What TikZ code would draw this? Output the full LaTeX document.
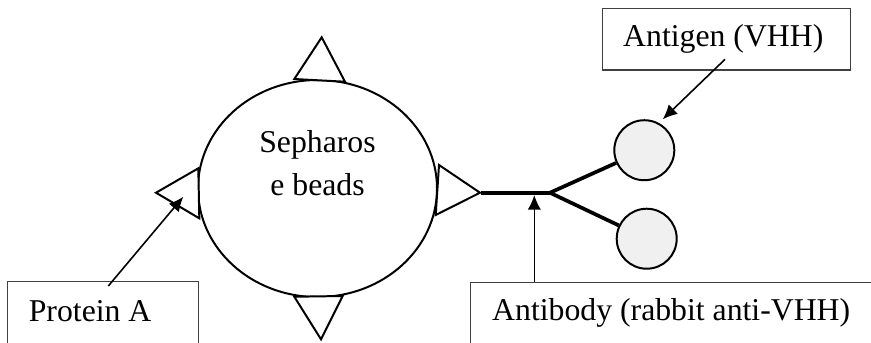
\documentclass[tikz,border=0pt]{standalone}
\usepackage{fontspec}
\setmainfont{Liberation Serif}
\usetikzlibrary{arrows.meta,fit,calc,shapes.geometric}
\tikzset{
  labelbox/.style={draw=black!75, line width=0.4pt, inner sep=0pt, fill=none},
  labeltext/.style={anchor=base west, inner sep=0pt, font=\fontsize{12}{14}\selectfont},
  bump/.style={draw, line width=0.75pt, fill=white, line join=miter},
  pointer/.style={line width=0.6pt, -{Latex[length=5.5pt,width=5pt]}},
  antigen/.style={circle, draw, line width=0.75pt, fill=black!6, minimum size=60*0.378pt, inner sep=0pt}
}

\begin{document}
\begin{tikzpicture}[x=0.378pt,y=-0.378pt]

  \useasboundingbox (0,0) rectangle (871,342);
  \clip (0,0) rectangle (871,342);

  % bead and its four protein A triangles
  \node (bead) [draw, ellipse, line width=0.75pt, minimum width=239*0.378pt, minimum height=217*0.378pt, inner sep=0pt] at (317.5,188.5) {};
  \node (beadtext) [align=center, inner sep=0pt, anchor=base, font=\fontsize{12}{15.9}\selectfont] at (317.5,195) {Sepharos\\e beads};

  \draw[bump] (294.3,79) -- (321.7,37.3) -- (345,81.7) -- cycle;
  \draw[bump] (294.3,296.7) -- (321,339.3) -- (342.7,296) -- cycle;
  \draw[bump] (198.3,168.3) -- (156,192.7) -- (199.3,218.3) -- cycle;
  \draw[bump] (439,165) -- (480,192.7) -- (435.7,215) -- cycle;

  % antibody
  \coordinate (stem0) at (480.7,192.7);
  \coordinate (fork) at (550,192.7);
  \node (agup) [antigen] at (644.3,150.2) {};
  \node (agdown) [antigen] at (646.7,238.7) {};
  \draw[line width=1.4pt] (stem0) -- (fork);
  \draw[line width=1.4pt] (fork) -- (agup);
  \draw[line width=1.4pt] (fork) -- (agdown);

  % label boxes
  \node (agbox) [labelbox, fit={(602.3,8.3) (850.7,70)}] {};
  \node (agtext) [labeltext] at (622.7,46.7) {Antigen (VHH)};

  \node (abbox) [labelbox, fit={(470.7,282.3) (900,380)}] {};
  \node (abtext) [labeltext] at (491.7,320) {Antibody (rabbit anti-VHH)};

  \node (pabox) [labelbox, fit={(7.7,281.7) (198.3,380)}] {};
  \node (patext) [labeltext] at (28.3,321.7) {Protein A};

  % pointers
  \coordinate (agfrom) at (725,59.3);
  \coordinate (agto) at (662.7,119.3);
  \coordinate (abfrom) at (534.3,281.7);
  \coordinate (abto) at (534.3,195);
  \coordinate (pafrom) at (108.3,286);
  \coordinate (pato) at (183.3,196.7);
  \draw[pointer] (agfrom) -- (agto);
  \draw[pointer] (abfrom) -- (abto);
  \draw[pointer] (pafrom) -- (pato);

\end{tikzpicture}
\end{document}
